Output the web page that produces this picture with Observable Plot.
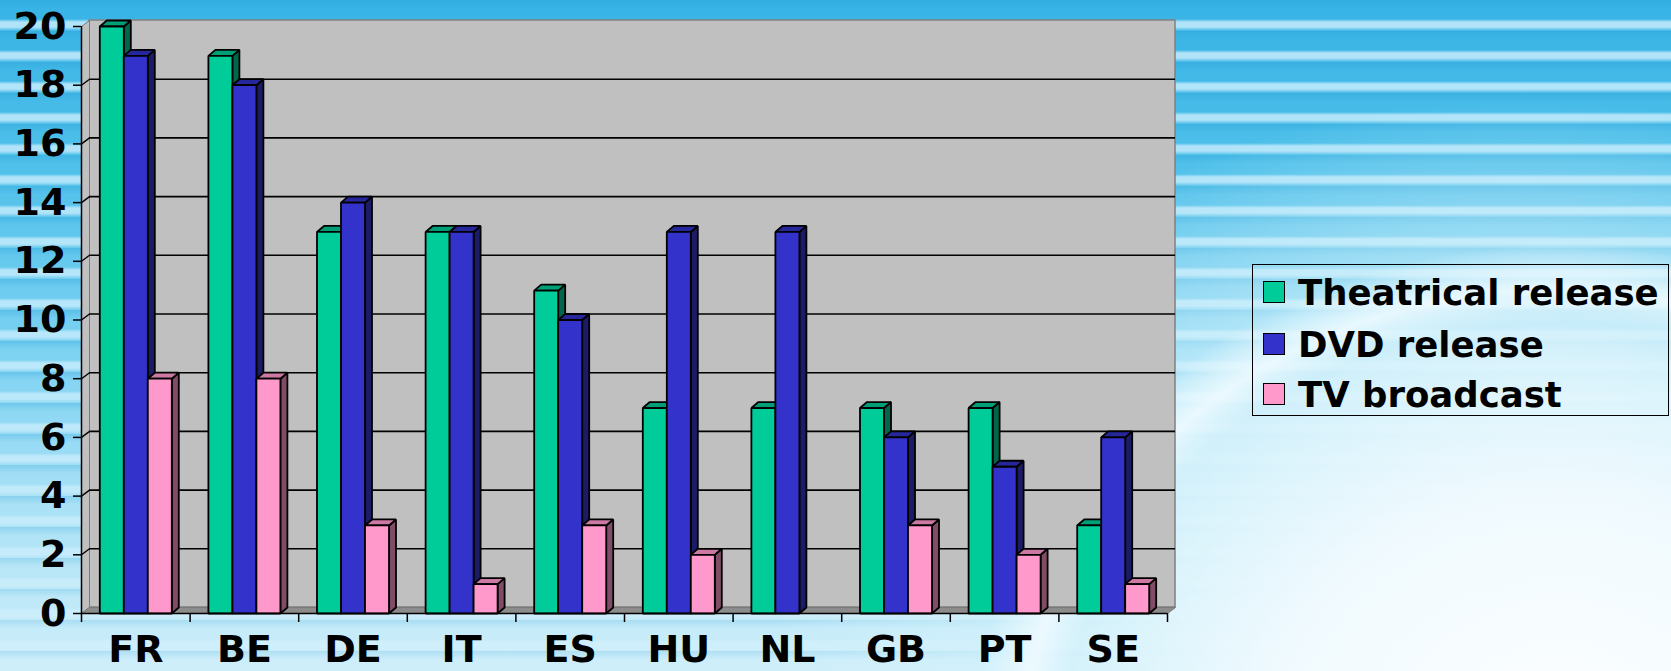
<!DOCTYPE html>
<html>
<head>
<meta charset="utf-8">
<script src="https://cdn.jsdelivr.net/npm/d3@7"></script>
<script src="https://cdn.jsdelivr.net/npm/@observablehq/plot@0.6"></script>
<style>
  html, body { margin: 0; padding: 0; }
  body { width: 1671px; height: 671px; overflow: hidden; font-family: "DejaVu Sans", Verdana, sans-serif; }
  #wrap { position: relative; width: 1671px; height: 671px; overflow: hidden; }
  .layer { position: absolute; inset: 0; }
  #base {
    background: linear-gradient(to bottom, #37b3e5 0%, #4fc0ea 25%, #78d0f1 50%, #a9e1f6 75%, #cfeefa 100%);
  }
  #stripes {
    background: repeating-linear-gradient(to bottom,
      rgba(40,160,215,0.35) 0px, rgba(40,160,215,0.0) 8px,
      rgba(255,255,255,0.0) 19px, rgba(220,244,255,0.75) 22px, rgba(220,244,255,0.75) 27px, rgba(255,255,255,0.0) 31px);
    -webkit-mask-image: linear-gradient(to bottom, rgba(0,0,0,1) 0%, rgba(0,0,0,0.85) 55%, rgba(0,0,0,0.45) 100%);
            mask-image: linear-gradient(to bottom, rgba(0,0,0,1) 0%, rgba(0,0,0,0.85) 55%, rgba(0,0,0,0.45) 100%);
  }
  #glow {
    background:
      radial-gradient(ellipse 520px 470px at 1560px 760px, rgba(255,255,255,0.95) 0%, rgba(246,252,255,0.85) 55%, rgba(235,249,255,0.0) 100%),
      radial-gradient(ellipse 640px 560px at 1560px 760px, rgba(220,245,252,0.0) 78%, rgba(240,251,255,0.85) 84%, rgba(225,246,252,0.0) 92%),
      radial-gradient(ellipse 760px 620px at 1520px 720px, rgba(214,242,251,0.97) 0%, rgba(210,241,251,0.9) 60%, rgba(210,241,251,0.0) 100%);
  }
  #chart { position: absolute; left: 0; top: 0; }
  #legend {
    position: absolute; left: 1252px; top: 264px; width: 417px; height: 152px;
    border: 1.5px solid #000; box-sizing: border-box;
    font-family: "DejaVu Sans", Verdana, sans-serif; font-weight: bold; font-size: 35.5px; color: #000;
  }
  .item { position: absolute; left: 10px; height: 44px; display: flex; align-items: center; white-space: nowrap; }
  .swatch { width: 22px; height: 22px; border: 1px solid #000; box-sizing: border-box; margin-right: 13px; }
</style>
</head>
<body>
<div id="wrap">
  <div class="layer" id="base"></div>
  <div class="layer" id="stripes"></div>
  <div class="layer" id="glow"></div>
  <div id="chart"></div>
  <div id="legend"></div>
</div>
<script>
// Films per country, by type of release
const countries = ["FR", "BE", "DE", "IT", "ES", "HU", "NL", "GB", "PT", "SE"];
const theatrical = [20, 19, 13, 13, 11, 7, 7, 7, 7, 3];
const dvd = [19, 18, 14, 13, 10, 13, 13, 6, 5, 6];
const tvBroadcast = [8, 8, 3, 1, 3, 2, 0, 3, 2, 1];
const seriesNames = ["Theatrical release", "DVD release", "TV broadcast"];
const yTicks = [0, 2, 4, 6, 8, 10, 12, 14, 16, 18, 20];

// Face colours per series: front, top, side
const shades = [
  {front: "#00cc99", top: "#009e76", side: "#00664c"},
  {front: "#3333cc", top: "#27279c", side: "#1c1c66"},
  {front: "#ff99cc", top: "#cc7aa3", side: "#804c66"}
];

const W = 1671, H = 671;
const mL = 81, mR = 504, mT = 26, mB = 58;
const nCat = countries.length, yMax = 20;
const pxX = (W - mL - mR) / nCat;   // pixels per category
const pxY = (H - mT - mB) / yMax;   // pixels per unit

// Oblique depth of the walls and of the columns, converted to data units
const wallDx = 8, wallDy = 6;
const WX = wallDx / pxX, WY = wallDy / pxY;
const BX = 7 / pxX, BY = 6 / pxY;
const bw = 24 / pxX;                 // column width in category units
const off = 0.5 - 1.5 * bw;          // cluster centred in its category

const values = [theatrical, dvd, tvBroadcast];

function poly(id, pts, fill) {
  return pts.map(([x, y]) => ({id, x, y, fill}));
}

// Column faces, in drawing order (side, top, front) so later columns hide earlier sides
const faces = [];
countries.forEach((c, i) => {
  values.forEach((vals, s) => {
    const v = vals[i];
    if (!v) return;
    const x0 = i + off + s * bw, x1 = x0 + bw;
    const id = c + "-" + s;
    faces.push(...poly(id + "-side", [[x1, 0], [x1 + BX, BY], [x1 + BX, v + BY], [x1, v]], shades[s].side));
    faces.push(...poly(id + "-top", [[x0, v], [x1, v], [x1 + BX, v + BY], [x0 + BX, v + BY]], shades[s].top));
    faces.push(...poly(id + "-front", [[x0, 0], [x1, 0], [x1, v], [x0, v]], shades[s].front));
  });
});

const walls = [
  ...poly("left", [[0, 0], [0, yMax], [WX, yMax + WY], [WX, WY]], "#c0c0c0"),
  ...poly("floor", [[0, 0], [nCat, 0], [nCat + WX, WY], [WX, WY]], "#8c8c8c")
];

const inner = yTicks.filter(d => d > 0 && d < yMax);
const font = {fontFamily: "DejaVu Sans, Verdana, sans-serif", fontWeight: "bold", fontSize: 38};

const chart = Plot.plot({
  width: W,
  height: H,
  marginLeft: mL,
  marginRight: mR,
  marginTop: mT,
  marginBottom: mB,
  x: {domain: [0, nCat], axis: null},
  y: {domain: [0, yMax], axis: null},
  color: {type: "identity"},
  style: {background: "transparent", color: "#000", overflow: "visible", maxWidth: "none",
          fontFamily: "DejaVu Sans, Verdana, sans-serif", fontWeight: "bold", fontSize: "38px"},
  marks: [
    // back wall
    Plot.rect([{x1: 0, x2: nCat, y1: 0, y2: yMax}], {
      x1: "x1", x2: "x2", y1: "y1", y2: "y2", dx: wallDx, dy: -wallDy,
      fill: "#c0c0c0", stroke: "#808080", strokeWidth: 1.5
    }),
    // side wall and floor
    Plot.line(walls, {x: "x", y: "y", z: "id", fill: "fill", stroke: "#7a7a7a", strokeWidth: 1, curve: "linear-closed"}),
    // gridlines on back wall and side wall
    Plot.ruleY(inner, {x1: 0, x2: nCat, dx: wallDx, dy: -wallDy, stroke: "#000", strokeWidth: 1.6}),
    Plot.link(inner, {x1: 0, y1: d => d, x2: WX, y2: d => d + WY, stroke: "#000", strokeWidth: 1.4}),
    // columns
    Plot.line(faces, {x: "x", y: "y", z: "id", fill: "fill", stroke: "#000", strokeWidth: 1.8,
                      strokeLinejoin: "miter", curve: "linear-closed"}),
    // axis lines
    Plot.ruleX([0], {y1: 0, y2: yMax, stroke: "#000", strokeWidth: 1.5}),
    Plot.ruleY([0], {x1: 0, x2: nCat, stroke: "#000", strokeWidth: 1.5}),
    Plot.axisY({ticks: yTicks, tickSize: 8, tickPadding: 7, tickFormat: d => String(d), ...font, strokeWidth: 1.5}),
    Plot.axisX({ticks: d3.range(0, nCat + 1), tickSize: 9, tickFormat: () => "", strokeWidth: 1.5}),
    Plot.axisX({ticks: d3.range(nCat).map(i => i + 0.5), tickSize: 0, tickPadding: 22,
                tickFormat: d => countries[Math.floor(d)], ...font})
  ]
});
document.getElementById("chart").append(chart);

// Legend
const legend = document.getElementById("legend");
const rowTops = [5, 57, 107];
seriesNames.forEach((name, s) => {
  const item = document.createElement("div");
  item.className = "item";
  item.style.top = rowTops[s] + "px";
  const sw = document.createElement("span");
  sw.className = "swatch";
  sw.style.background = shades[s].front;
  const label = document.createElement("span");
  label.textContent = name;
  item.append(sw, label);
  legend.append(item);
});
</script>
</body>
</html>
